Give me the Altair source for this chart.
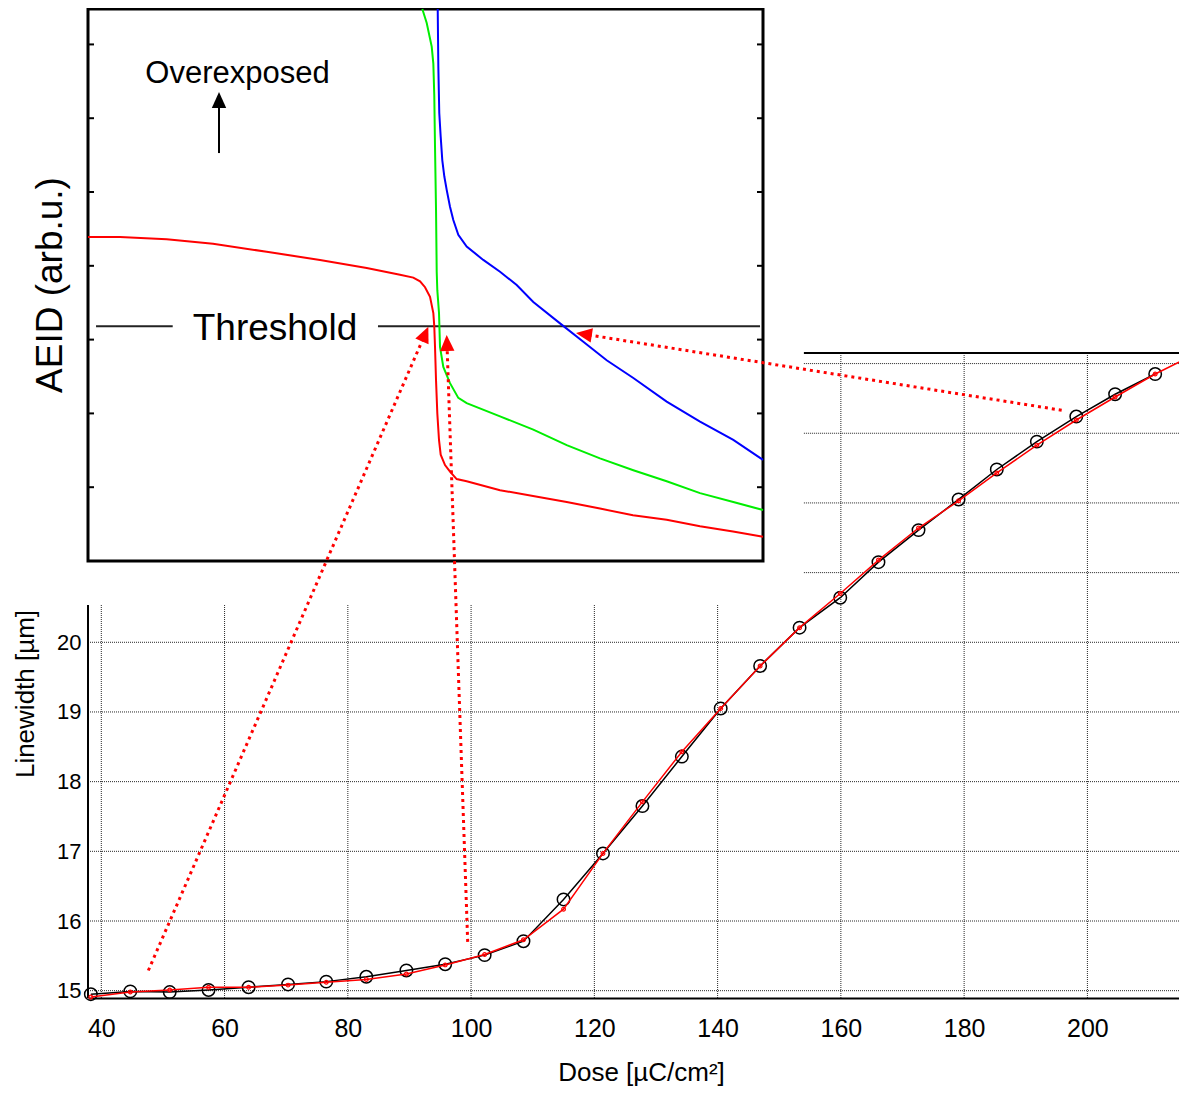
import math
import altair as alt
import pandas as pd

# ---------------- main chart data (Dose vs Linewidth) ----------------
dose = [38.3, 44.7, 51.1, 57.4, 63.9, 70.3, 76.5, 83.0, 89.5, 95.8, 102.2, 108.5,
        115.0, 121.4, 127.8, 134.2, 140.5, 146.9, 153.3, 159.9, 166.1, 172.6,
        179.1, 185.3, 191.8, 198.2, 204.5, 211.0]
lw_measured = [14.95, 14.99, 14.98, 15.01, 15.05, 15.09, 15.13, 15.20, 15.29, 15.38,
               15.51, 15.71, 16.31, 16.97, 17.65, 18.36, 19.05, 19.66, 20.21, 20.64,
               21.15, 21.61, 22.05, 22.48, 22.88, 23.24, 23.56, 23.85]
lw_simulated = [14.91, 14.98, 15.01, 15.05, 15.05, 15.08, 15.12, 15.16, 15.24, 15.37,
                15.52, 15.73, 16.17, 16.97, 17.71, 18.43, 19.05, 19.66, 20.21, 20.70,
                21.18, 21.64, 22.03, 22.43, 22.83, 23.19, 23.52, 23.85]
# the simulated curve continues past the right edge
sim_tail_dose = [216.2]
sim_tail_lw = [24.08]

x_ticks = [40, 60, 80, 100, 120, 140, 160, 180, 200]
y_grid = [15, 16, 17, 18, 19, 20, 21, 22, 23, 24]
y_labels = [15, 16, 17, 18, 19, 20]

# ---------------- inset data (AEID curves) ----------------
red_x = [0, 4.74, 11.66, 18.52, 26.47, 34.37, 41.29, 46.22, 48.19, 49.19, 49.93, 50.67,
         51.16, 51.30, 51.41, 51.56, 51.75, 52.00, 52.25, 52.89, 53.63, 54.62, 56.10,
         61.04, 65.93, 70.92, 75.85, 80.74, 85.73, 90.67, 95.56, 100]
red_y = [4.39, 4.39, 4.36, 4.30, 4.19, 4.08, 3.97, 3.88, 3.84, 3.79, 3.71, 3.58,
         3.36, 3.18, 2.90, 2.45, 2.00, 1.64, 1.44, 1.30, 1.21, 1.11, 1.08,
         0.96, 0.88, 0.80, 0.71, 0.62, 0.56, 0.47, 0.40, 0.33]
green_x = [49.53, 50.18, 50.92, 51.16, 51.30, 51.41, 51.56, 51.66, 51.75, 52.00, 52.15,
           52.64, 53.63, 54.86, 56.10, 61.04, 65.97, 70.92, 75.85, 80.79, 85.73, 90.67,
           95.60, 100]
green_y = [7.48, 7.29, 6.97, 6.74, 6.31, 5.61, 4.76, 3.92, 3.67, 3.36, 2.90,
           2.63, 2.41, 2.21, 2.14, 1.96, 1.78, 1.57, 1.39, 1.23, 1.08, 0.92,
           0.80, 0.69]
blue_x = [51.81, 51.90, 52.04, 52.25, 52.49, 52.79, 53.14, 53.63, 54.12, 54.86, 56.10,
          58.56, 61.04, 63.51, 65.97, 69.93, 73.38, 76.84, 80.79, 85.73, 90.67, 95.60, 100]
blue_y = [7.48, 6.70, 6.07, 5.75, 5.43, 5.21, 5.03, 4.80, 4.62, 4.42, 4.26,
          4.08, 3.92, 3.74, 3.51, 3.22, 2.97, 2.72, 2.48, 2.16, 1.89, 1.64, 1.37]
threshold = 3.18
inset_ticks = [1, 2, 3, 4, 5, 6, 7]

# arrows: from main-chart points to threshold crossings (main-chart coordinates)
arrow_start_dose = [47.63, 99.45, 195.83]
arrow_start_lw = [15.29, 15.70, 23.33]
arrow_tip_dose = [93.06, 96.04, 117.02]
arrow_tip_lw = [24.53, 24.41, 24.44]

# ---------------- layout ----------------
W, H = 1091, 990
X_MIN = 37.84
X_MAX = X_MIN + W / 6.163
Y_MIN, Y_MAX = 14.895, 29.103
LOWER_TOP = 20.535     # top of the visible lower part of the main chart
UPPER_LEFT = 154.0     # left edge of the visible upper part
FRAME_TOP = 24.15      # top frame line of the main chart
IX_MAX, IY_MAX = 100, 7.48
FONT = "Liberation Sans"
ARROW_SHAPE = "M0,0L-0.45,1L0.45,1Z"
HEAD_SIZE = 1024
HEAD_LEN = 16
GRID_DASH = [1, 1]

main_x = alt.Scale(domain=[X_MIN, X_MAX], nice=False, zero=False)
main_y = alt.Scale(domain=[Y_MIN, Y_MAX], nice=False, zero=False)
x_axis = alt.Axis(values=x_ticks, title="Dose [µC/cm²]", ticks=False, grid=False,
                  domain=True, domainColor="black", domainWidth=2,
                  labelFont=FONT, labelFontSize=25, labelColor="black", labelPadding=18,
                  labelFlush=False, labelOverlap=False,
                  titleFont=FONT, titleFontSize=26, titleFontWeight="normal", titleColor="black",
                  titleX=553, titleY=82, titleBaseline="alphabetic", titleAlign="center")
y_axis = alt.Axis(values=y_labels, title="Linewidth [µm]", ticks=False, grid=False, domain=False,
                  labelFont=FONT, labelFontSize=22, labelColor="black", labelPadding=7,
                  labelFlush=False, labelOverlap=False,
                  titleFont=FONT, titleFontSize=26, titleFontWeight="normal", titleColor="black",
                  titleX=-54.7, titleY=685.5, titleAngle=270, titleBaseline="alphabetic",
                  titleAlign="center")


def MX(f):
    return alt.X(f, type="quantitative", scale=main_x, axis=x_axis)


def MY(f):
    return alt.Y(f, type="quantitative", scale=main_y, axis=y_axis)


inset_x = alt.Scale(domain=[0, IX_MAX], range=[0, 675], nice=False, zero=False)
inset_y = alt.Scale(domain=[0, IY_MAX], range=[553, 1], nice=False, zero=False)


def IX(f):
    return alt.X(f, type="quantitative", scale=inset_x, axis=None)


def IY(f):
    return alt.Y(f, type="quantitative", scale=inset_y, axis=None)


def AX(f):
    return alt.X(f, type="quantitative", scale=main_x, axis=None)


def AY(f):
    return alt.Y(f, type="quantitative", scale=main_y, axis=None)


# ---------------- main chart layers ----------------
hgrid = pd.DataFrame({"y": y_grid,
                      "x1": [X_MIN if v <= 20 else UPPER_LEFT for v in y_grid],
                      "x2": [X_MAX] * len(y_grid)})
vgrid = pd.DataFrame({"x": x_ticks, "y1": [Y_MIN] * len(x_ticks),
                      "y2": [LOWER_TOP if v < 150 else FRAME_TOP for v in x_ticks]})
frame_df = pd.DataFrame({"x1": [X_MIN, UPPER_LEFT], "x2": [X_MIN, X_MAX],
                         "y1": [Y_MIN, FRAME_TOP], "y2": [LOWER_TOP, FRAME_TOP]})
meas_df = pd.DataFrame({"dose": dose, "lw": lw_measured})
sim_df = pd.DataFrame({"dose": dose + sim_tail_dose, "lw": lw_simulated + sim_tail_lw})
sim_pts = pd.DataFrame({"dose": dose, "lw": lw_simulated})

grid_h = alt.Chart(hgrid).mark_rule(color="black", strokeWidth=1, strokeDash=GRID_DASH,
                                    opacity=0.85).encode(
    x=MX("x1"), x2="x2", y=MY("y"))
grid_v = alt.Chart(vgrid).mark_rule(color="black", strokeWidth=1, strokeDash=GRID_DASH,
                                    opacity=0.85).encode(
    x=MX("x"), y=MY("y1"), y2="y2")
frame = alt.Chart(frame_df).mark_rule(color="black", strokeWidth=2).encode(
    x=MX("x1"), x2="x2", y=MY("y1"), y2="y2")
meas_line = alt.Chart(meas_df).mark_line(color="black", strokeWidth=1.5).encode(
    x=MX("dose"), y=MY("lw"))
meas_pts = alt.Chart(meas_df).mark_point(shape="circle", size=155, color="black", filled=False,
                                         strokeWidth=1.5, opacity=1).encode(x=MX("dose"), y=MY("lw"))
sim_line = alt.Chart(sim_df).mark_line(color="#ff0000", strokeWidth=1.5, clip=True).encode(
    x=MX("dose"), y=MY("lw"))
sim_marks = alt.Chart(sim_pts).mark_point(shape="circle", size=14, color="#ff0000", filled=False,
                                          strokeWidth=1.2, opacity=1).encode(x=MX("dose"), y=MY("lw"))

main = alt.layer(grid_h, grid_v, frame, meas_line, meas_pts, sim_line, sim_marks)

# ---------------- inset layers ----------------
box = alt.Chart(pd.DataFrame({"x1": [0], "x2": [IX_MAX], "y1": [0], "y2": [IY_MAX]})).mark_rect(
    fill="white", stroke="black", strokeWidth=3).encode(
    x=IX("x1"), x2="x2", y=IY("y1"), y2="y2")
tick_df = pd.DataFrame({"y": inset_ticks, "xl": [0] * len(inset_ticks),
                        "xr": [IX_MAX] * len(inset_ticks)})
ticks_l = alt.Chart(tick_df).mark_rule(color="black", strokeWidth=2, x2Offset=6).encode(
    x=IX("xl"), x2="xl", y=IY("y"))
ticks_r = alt.Chart(tick_df).mark_rule(color="black", strokeWidth=2, x2Offset=-6).encode(
    x=IX("xr"), x2="xr", y=IY("y"))
thr_df = pd.DataFrame({"x1": [1.19, 42.96], "x2": [12.55, 99.56], "y": [threshold, threshold]})
thr = alt.Chart(thr_df).mark_rule(color="#222", strokeWidth=2).encode(
    x=IX("x1"), x2="x2", y=IY("y"))


def curve(xs, ys, col):
    return alt.Chart(pd.DataFrame({"x": xs, "y": ys, "o": list(range(len(xs)))})).mark_line(
        color=col, strokeWidth=2).encode(x=IX("x"), y=IY("y"), order="o:Q")


red_c = curve(red_x, red_y, "#ff0000")
green_c = curve(green_x, green_y, "#00ee00")
blue_c = curve(blue_x, blue_y, "#0000ff")

thr_text = alt.Chart(pd.DataFrame({"x": [27.7], "y": [2.995], "t": ["Threshold"]})).mark_text(
    font=FONT, fontSize=37, color="black", align="center", baseline="alphabetic").encode(
    x=IX("x"), y=IY("y"), text="t")
oe_text = alt.Chart(pd.DataFrame({"x": [22.15], "y": [6.473], "t": ["Overexposed"]})).mark_text(
    font=FONT, fontSize=31, color="black", align="center", baseline="alphabetic").encode(
    x=IX("x"), y=IY("y"), text="t")
aeid_text = alt.Chart(pd.DataFrame({"x": [-3.81], "y": [3.74], "t": ["AEID (arb.u.)"]})).mark_text(
    font=FONT, fontSize=37, color="black", align="center", baseline="alphabetic", angle=270).encode(
    x=IX("x"), y=IY("y"), text="t")
oe_line = alt.Chart(pd.DataFrame({"x": [19.41, 19.41], "y": [5.528, 6.2]})).mark_line(
    color="black", strokeWidth=2).encode(x=IX("x"), y=IY("y"))
oe_head = alt.Chart(pd.DataFrame({"x": [19.41], "y": [6.355], "a": [0]})).mark_point(
    shape=ARROW_SHAPE, size=HEAD_SIZE, filled=True, color="black", opacity=1, strokeWidth=0).encode(
    x=IX("x"), y=IY("y"), angle=alt.Angle("a:Q", scale=None))

inset = alt.layer(box, ticks_l, ticks_r, thr, red_c, green_c, blue_c,
                  thr_text, oe_text, aeid_text, oe_line, oe_head)

# ---------------- arrows ----------------
px_x = W / (X_MAX - X_MIN)
px_y = H / (Y_MAX - Y_MIN)
rows, heads = [], []
for i in range(len(arrow_start_dose)):
    dx = (arrow_tip_dose[i] - arrow_start_dose[i]) * px_x
    dy = -(arrow_tip_lw[i] - arrow_start_lw[i]) * px_y
    ln = math.hypot(dx, dy)
    ang = math.degrees(math.atan2(dx, -dy)) % 360
    bx = arrow_tip_dose[i] - (dx / ln) * HEAD_LEN * 0.7 / px_x
    by = arrow_tip_lw[i] + (dy / ln) * HEAD_LEN * 0.7 / px_y
    rows.append({"a": i, "o": 0, "dose": arrow_start_dose[i], "lw": arrow_start_lw[i]})
    rows.append({"a": i, "o": 1, "dose": bx, "lw": by})
    heads.append({"dose": arrow_tip_dose[i], "lw": arrow_tip_lw[i], "ang": ang})

arrow_lines = alt.Chart(pd.DataFrame(rows)).mark_line(
    color="#ff0000", strokeWidth=3, strokeDash=[3, 4]).encode(
    x=AX("dose"), y=AY("lw"), detail="a:N", order="o:Q")
arrow_heads = alt.Chart(pd.DataFrame(heads)).mark_point(
    shape=ARROW_SHAPE, size=HEAD_SIZE, filled=True, color="#ff0000", opacity=1, strokeWidth=0).encode(
    x=AX("dose"), y=AY("lw"), angle=alt.Angle("ang:Q", scale=None))
arrows = alt.layer(arrow_lines, arrow_heads)

chart = alt.layer(main, inset, arrows).resolve_scale(
    x="independent", y="independent").properties(
    width=W, height=H,
    autosize=alt.AutoSizeParams(type="none"),
    padding={"left": 80, "top": 0, "right": 0, "bottom": 90},
).configure_view(stroke=None)

chart.save("out.html", embed_options={"renderer": "svg", "actions": False})
